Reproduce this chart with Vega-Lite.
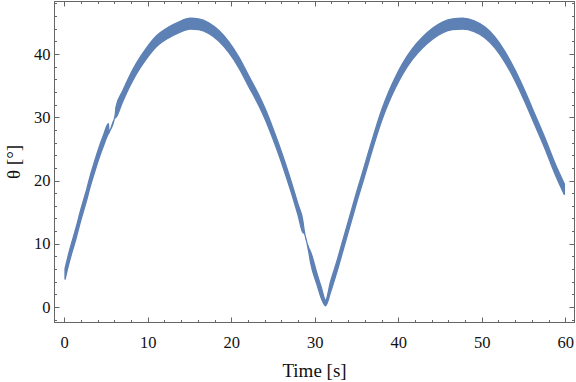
{
  "$schema": "https://vega.github.io/schema/vega-lite/v6.json",
  "width": 520,
  "height": 321,
  "autosize": "none",
  "padding": {"left": 54, "top": 1, "right": 2, "bottom": 60},
  "background": "white",
  "config": {
    "view": {"stroke": "#666666", "strokeWidth": 1},
    "axis": {
      "grid": false,
      "domainColor": "#666666",
      "tickColor": "#666666",
      "labelFont": "Liberation Serif",
      "labelFontSize": 16.5,
      "labelColor": "#111111",
      "titleFont": "Liberation Serif",
      "titleFontSize": 19,
      "titleFontWeight": "normal",
      "titleColor": "#111111"
    }
  },
  "data": {
    "values": [
      {"t": 0.1, "lo": 4.35, "hi": 6.05},
      {"t": 0.6, "lo": 7.05, "hi": 8.75},
      {"t": 1.4, "lo": 10.75, "hi": 12.45},
      {"t": 2.0, "lo": 13.75, "hi": 15.45},
      {"t": 2.7, "lo": 16.95, "hi": 18.65},
      {"t": 3.1, "lo": 18.95, "hi": 20.65},
      {"t": 3.6, "lo": 21.15, "hi": 22.85},
      {"t": 4.1, "lo": 23.25, "hi": 24.95},
      {"t": 4.7, "lo": 25.45, "hi": 27.15},
      {"t": 5.3, "lo": 27.4, "hi": 29.0},
      {"t": 5.35, "lo": 27.5, "hi": 27.9},
      {"t": 6.1, "lo": 29.9, "hi": 30.3},
      {"t": 6.2, "lo": 30.0, "hi": 31.6},
      {"t": 7.0, "lo": 32.45, "hi": 34.15},
      {"t": 7.8, "lo": 34.75, "hi": 36.45},
      {"t": 8.6, "lo": 36.75, "hi": 38.45},
      {"t": 9.8, "lo": 39.15, "hi": 40.85},
      {"t": 11.0, "lo": 41.1, "hi": 42.8},
      {"t": 12.5, "lo": 42.55, "hi": 44.25},
      {"t": 13.7, "lo": 43.35, "hi": 45.05},
      {"t": 15.1, "lo": 43.95, "hi": 45.65},
      {"t": 16.1, "lo": 43.85, "hi": 45.55},
      {"t": 17.3, "lo": 43.25, "hi": 44.95},
      {"t": 18.5, "lo": 42.05, "hi": 43.75},
      {"t": 19.7, "lo": 40.25, "hi": 41.95},
      {"t": 20.9, "lo": 37.85, "hi": 39.55},
      {"t": 22.1, "lo": 34.85, "hi": 36.55},
      {"t": 23.3, "lo": 31.85, "hi": 33.55},
      {"t": 24.1, "lo": 29.55, "hi": 31.25},
      {"t": 24.9, "lo": 26.9, "hi": 28.6},
      {"t": 25.7, "lo": 24.05, "hi": 25.75},
      {"t": 26.5, "lo": 20.95, "hi": 22.65},
      {"t": 27.3, "lo": 17.65, "hi": 19.35},
      {"t": 28.0, "lo": 14.55, "hi": 16.25},
      {"t": 28.6, "lo": 11.75, "hi": 13.45},
      {"t": 28.7, "lo": 11.7, "hi": 12.45},
      {"t": 29.3, "lo": 8.6, "hi": 9.3},
      {"t": 29.5, "lo": 7.05, "hi": 8.75},
      {"t": 30.3, "lo": 3.45, "hi": 5.15},
      {"t": 30.8, "lo": 1.35, "hi": 3.05},
      {"t": 31.3, "lo": 0.2, "hi": 1.1},
      {"t": 31.9, "lo": 2.35, "hi": 4.05},
      {"t": 32.7, "lo": 5.75, "hi": 7.45},
      {"t": 33.5, "lo": 9.45, "hi": 11.15},
      {"t": 34.3, "lo": 13.15, "hi": 14.85},
      {"t": 35.1, "lo": 16.85, "hi": 18.55},
      {"t": 35.9, "lo": 20.35, "hi": 22.05},
      {"t": 36.5, "lo": 23.05, "hi": 24.75},
      {"t": 37.3, "lo": 26.55, "hi": 28.25},
      {"t": 38.1, "lo": 29.75, "hi": 31.45},
      {"t": 38.9, "lo": 32.45, "hi": 34.15},
      {"t": 39.7, "lo": 34.75, "hi": 36.45},
      {"t": 40.5, "lo": 36.75, "hi": 38.45},
      {"t": 41.7, "lo": 39.15, "hi": 40.85},
      {"t": 42.9, "lo": 40.95, "hi": 42.65},
      {"t": 44.1, "lo": 42.35, "hi": 44.05},
      {"t": 45.3, "lo": 43.35, "hi": 45.05},
      {"t": 46.5, "lo": 43.85, "hi": 45.55},
      {"t": 47.7, "lo": 43.95, "hi": 45.65},
      {"t": 49.1, "lo": 43.55, "hi": 45.25},
      {"t": 50.4, "lo": 42.55, "hi": 44.25},
      {"t": 51.6, "lo": 40.95, "hi": 42.65},
      {"t": 52.8, "lo": 38.65, "hi": 40.35},
      {"t": 54.0, "lo": 35.75, "hi": 37.45},
      {"t": 55.2, "lo": 32.35, "hi": 34.05},
      {"t": 56.4, "lo": 28.65, "hi": 30.35},
      {"t": 57.6, "lo": 24.95, "hi": 26.65},
      {"t": 58.8, "lo": 20.95, "hi": 22.65},
      {"t": 59.9, "lo": 17.75, "hi": 19.45}
    ]
  },
  "layer": [
    {
      "mark": {"type": "area", "color": "#5E81B5", "stroke": "#5E81B5", "strokeWidth": 1.3, "interpolate": "monotone"},
      "encoding": {
        "x": {
          "field": "t", "type": "quantitative",
          "scale": {"domain": [-1.22, 61.05], "nice": false, "zero": false},
          "axis": {
            "orient": "bottom",
            "values": [0,2,4,6,8,10,12,14,16,18,20,22,24,26,28,30,32,34,36,38,40,42,44,46,48,50,52,54,56,58,60],
            "labelExpr": "datum.value % 10 === 0 ? datum.label : ''",
            "tickSize": {"condition": {"test": "datum.value % 10 === 0", "value": -5}, "value": -2.5},
            "labelPadding": 17,
            "title": "Time [s]",
            "titlePadding": 11
          }
        },
        "y": {
          "field": "lo", "type": "quantitative",
          "scale": {"domain": [-2.37, 48.38], "nice": false, "zero": false},
          "axis": {
            "orient": "left",
            "values": [-2,0,2,4,6,8,10,12,14,16,18,20,22,24,26,28,30,32,34,36,38,40,42,44,46,48],
            "labelExpr": "datum.value % 10 === 0 ? datum.label : ''",
            "tickSize": {"condition": {"test": "datum.value % 10 === 0", "value": -5}, "value": -2.5},
            "labelPadding": 9,
            "title": "θ [°]",
            "titlePadding": 10
          }
        },
        "y2": {"field": "hi"}
      }
    },
    {
      "mark": {"type": "area", "opacity": 0},
      "encoding": {
        "x": {
          "field": "t", "type": "quantitative",
          "axis": {
            "orient": "top",
            "values": [0,2,4,6,8,10,12,14,16,18,20,22,24,26,28,30,32,34,36,38,40,42,44,46,48,50,52,54,56,58,60],
            "labels": false,
            "tickSize": {"condition": {"test": "datum.value % 10 === 0", "value": -5}, "value": -2.5},
            "title": null
          }
        },
        "y": {
          "field": "lo", "type": "quantitative",
          "axis": {
            "orient": "right",
            "values": [-2,0,2,4,6,8,10,12,14,16,18,20,22,24,26,28,30,32,34,36,38,40,42,44,46,48],
            "labels": false,
            "tickSize": {"condition": {"test": "datum.value % 10 === 0", "value": -5}, "value": -2.5},
            "title": null
          }
        },
        "y2": {"field": "hi"}
      }
    }
  ],
  "resolve": {"axis": {"x": "independent", "y": "independent"}}
}
